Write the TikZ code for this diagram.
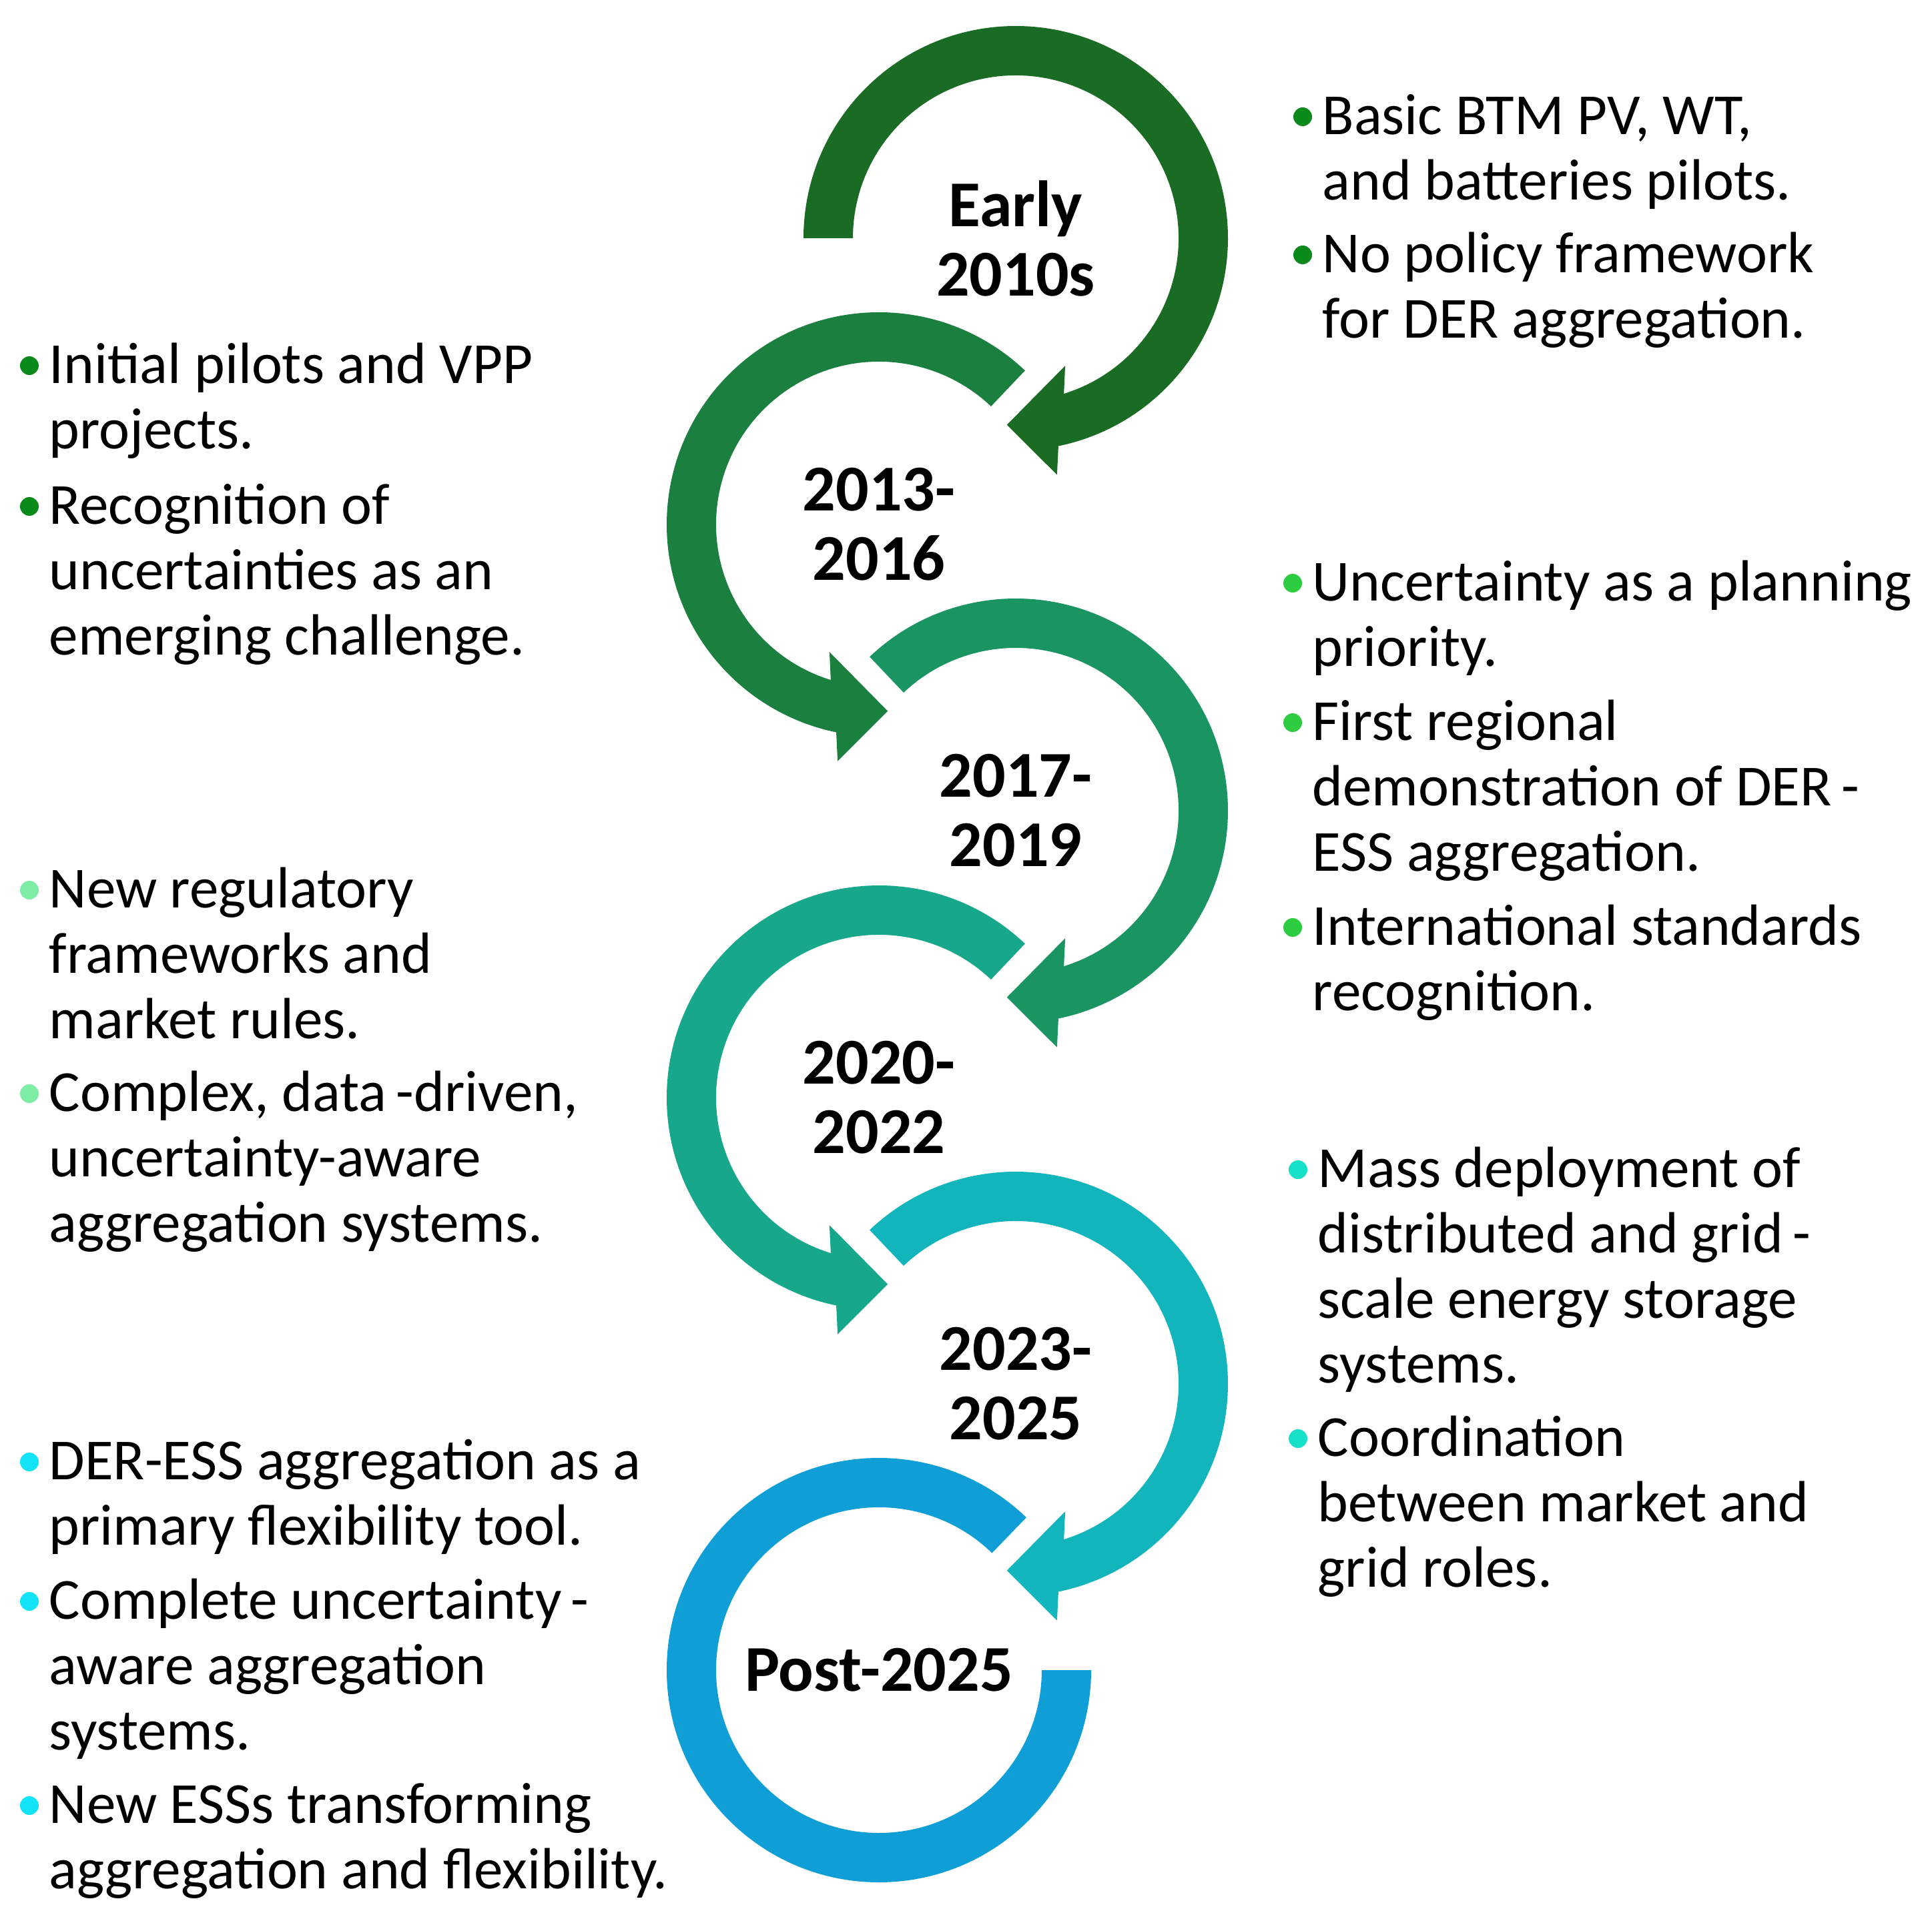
\documentclass[tikz,border=0pt]{standalone}
\usepackage{fontspec}
\setmainfont{Carlito}
\definecolor{cA}{HTML}{1A6B23}
\definecolor{cB}{HTML}{1B7F40}
\definecolor{cC}{HTML}{1A9460}
\definecolor{cD}{HTML}{17A78A}
\definecolor{cE}{HTML}{13B5BD}
\definecolor{cF}{HTML}{0F9FD6}
\definecolor{bA}{HTML}{0B8A1C}
\definecolor{bC}{HTML}{2ECC40}
\definecolor{bD}{HTML}{7EEDA6}
\definecolor{bE}{HTML}{17E0C8}
\definecolor{bF}{HTML}{12E3F7}
\tikzset{
  txt/.style={font=\fontsize{24.8pt}{27.8pt}\selectfont, align=left, inner sep=0pt, anchor=north west},
  yeartitle/.style={font=\bfseries\fontsize{27.9pt}{29.6pt}\selectfont, align=center, inner sep=0pt},
}
% bullet item: name, x, baseline (positive down), colour, text
\newcommand\bul[5]{%
  \node[txt] (#1) at (#2,-#3+0.685) {\strut #5};
  \fill[#4] (#2-0.29,-#3+0.26) circle[radius=0.14];
}
% clockwise circular arrow: cx, cy, start angle, colour
\newcommand\cwarr[4]{%
  \fill[#4,shift={(#1,#2)}] (#3:3.18) arc[start angle=#3,end angle=-78.4,radius=3.18]
    -- (-80.1:3.60) -- (-92.7:2.80) -- (-68.8:2.05) -- (-72.8:2.44)
    arc[start angle=-72.8,end angle=#3,radius=2.44] -- cycle;
}
% counter-clockwise circular arrow: cx, cy, start angle, colour
\newcommand\ccwarr[4]{%
  \fill[#4,shift={(#1,#2)}] (#3:3.18) arc[start angle=#3,end angle=258.4,radius=3.18]
    -- (260.1:3.60) -- (272.7:2.80) -- (248.8:2.05) -- (252.8:2.44)
    arc[start angle=252.8,end angle=#3,radius=2.44] -- cycle;
}
\begin{document}
\begin{tikzpicture}
\useasboundingbox (0,0) rectangle (28.95,-28.73);

% rings
\cwarr{15.22}{-3.57}{180}{cA}
\ccwarr{13.17}{-7.86}{46.5}{cB}
\cwarr{15.22}{-12.15}{133.5}{cC}
\ccwarr{13.17}{-16.45}{46.5}{cD}
\cwarr{15.22}{-20.74}{133.5}{cE}
\fill[cF,shift={(13.17,-25.03)}] (0:3.18) arc[start angle=0,end angle=-314,radius=3.18]
  -- (-314:2.44) arc[start angle=-314,end angle=0,radius=2.44] -- cycle;

% year titles
\node[yeartitle] (t1) at (15.22,-3.57) {Early\\2010s};
\node[yeartitle] (t2) at (13.17,-7.86) {2013-\\2016};
\node[yeartitle] (t3) at (15.22,-12.15) {2017-\\2019};
\node[yeartitle] (t4) at (13.17,-16.45) {2020-\\2022};
\node[yeartitle] (t5) at (15.22,-20.74) {2023-\\2025};
\node[yeartitle] (t6) at (13.17,-25.03) {Post-2025};

% Early 2010s
\bul{r1a}{19.81}{2.01}{bA}{Basic BTM PV, WT,\\and batteries pilots.}
\bul{r1b}{19.81}{4.08}{bA}{No policy framework\\for DER aggregation.}
% 2013-2016
\bul{l1a}{0.73}{5.74}{bA}{Initial pilots and VPP\\projects.}
\bul{l1b}{0.73}{7.85}{bA}{Recognition of\\uncertainties as an\\emerging challenge.}
% 2017-2019
\bul{r2a}{19.66}{9.00}{bC}{Uncertainty as a planning\\priority.}
\bul{r2b}{19.66}{11.09}{bC}{First regional\\demonstration of DER\,-\\ESS aggregation.}
\bul{r2c}{19.66}{14.16}{bC}{International standards\\recognition.}
% 2020-2022
\bul{l2a}{0.73}{13.60}{bD}{New regulatory\\frameworks and\\market rules.}
\bul{l2b}{0.73}{16.65}{bD}{Complex, data\,-driven,\\uncertainty-aware\\aggregation systems.}
% 2023-2025
\bul{r3a}{19.74}{17.79}{bE}{Mass deployment of\\distributed and grid\,-\\scale energy storage\\systems.}
\bul{r3b}{19.74}{21.82}{bE}{Coordination\\between market and\\grid roles.}
% Post-2025
\bul{l3a}{0.73}{22.17}{bF}{DER-ESS aggregation as a\\primary flexibility tool.}
\bul{l3b}{0.73}{24.26}{bF}{Complete uncertainty\,-\\aware aggregation\\systems.}
\bul{l3c}{0.73}{27.32}{bF}{New ESSs transforming\\aggregation and flexibility.}
\end{tikzpicture}
\end{document}
